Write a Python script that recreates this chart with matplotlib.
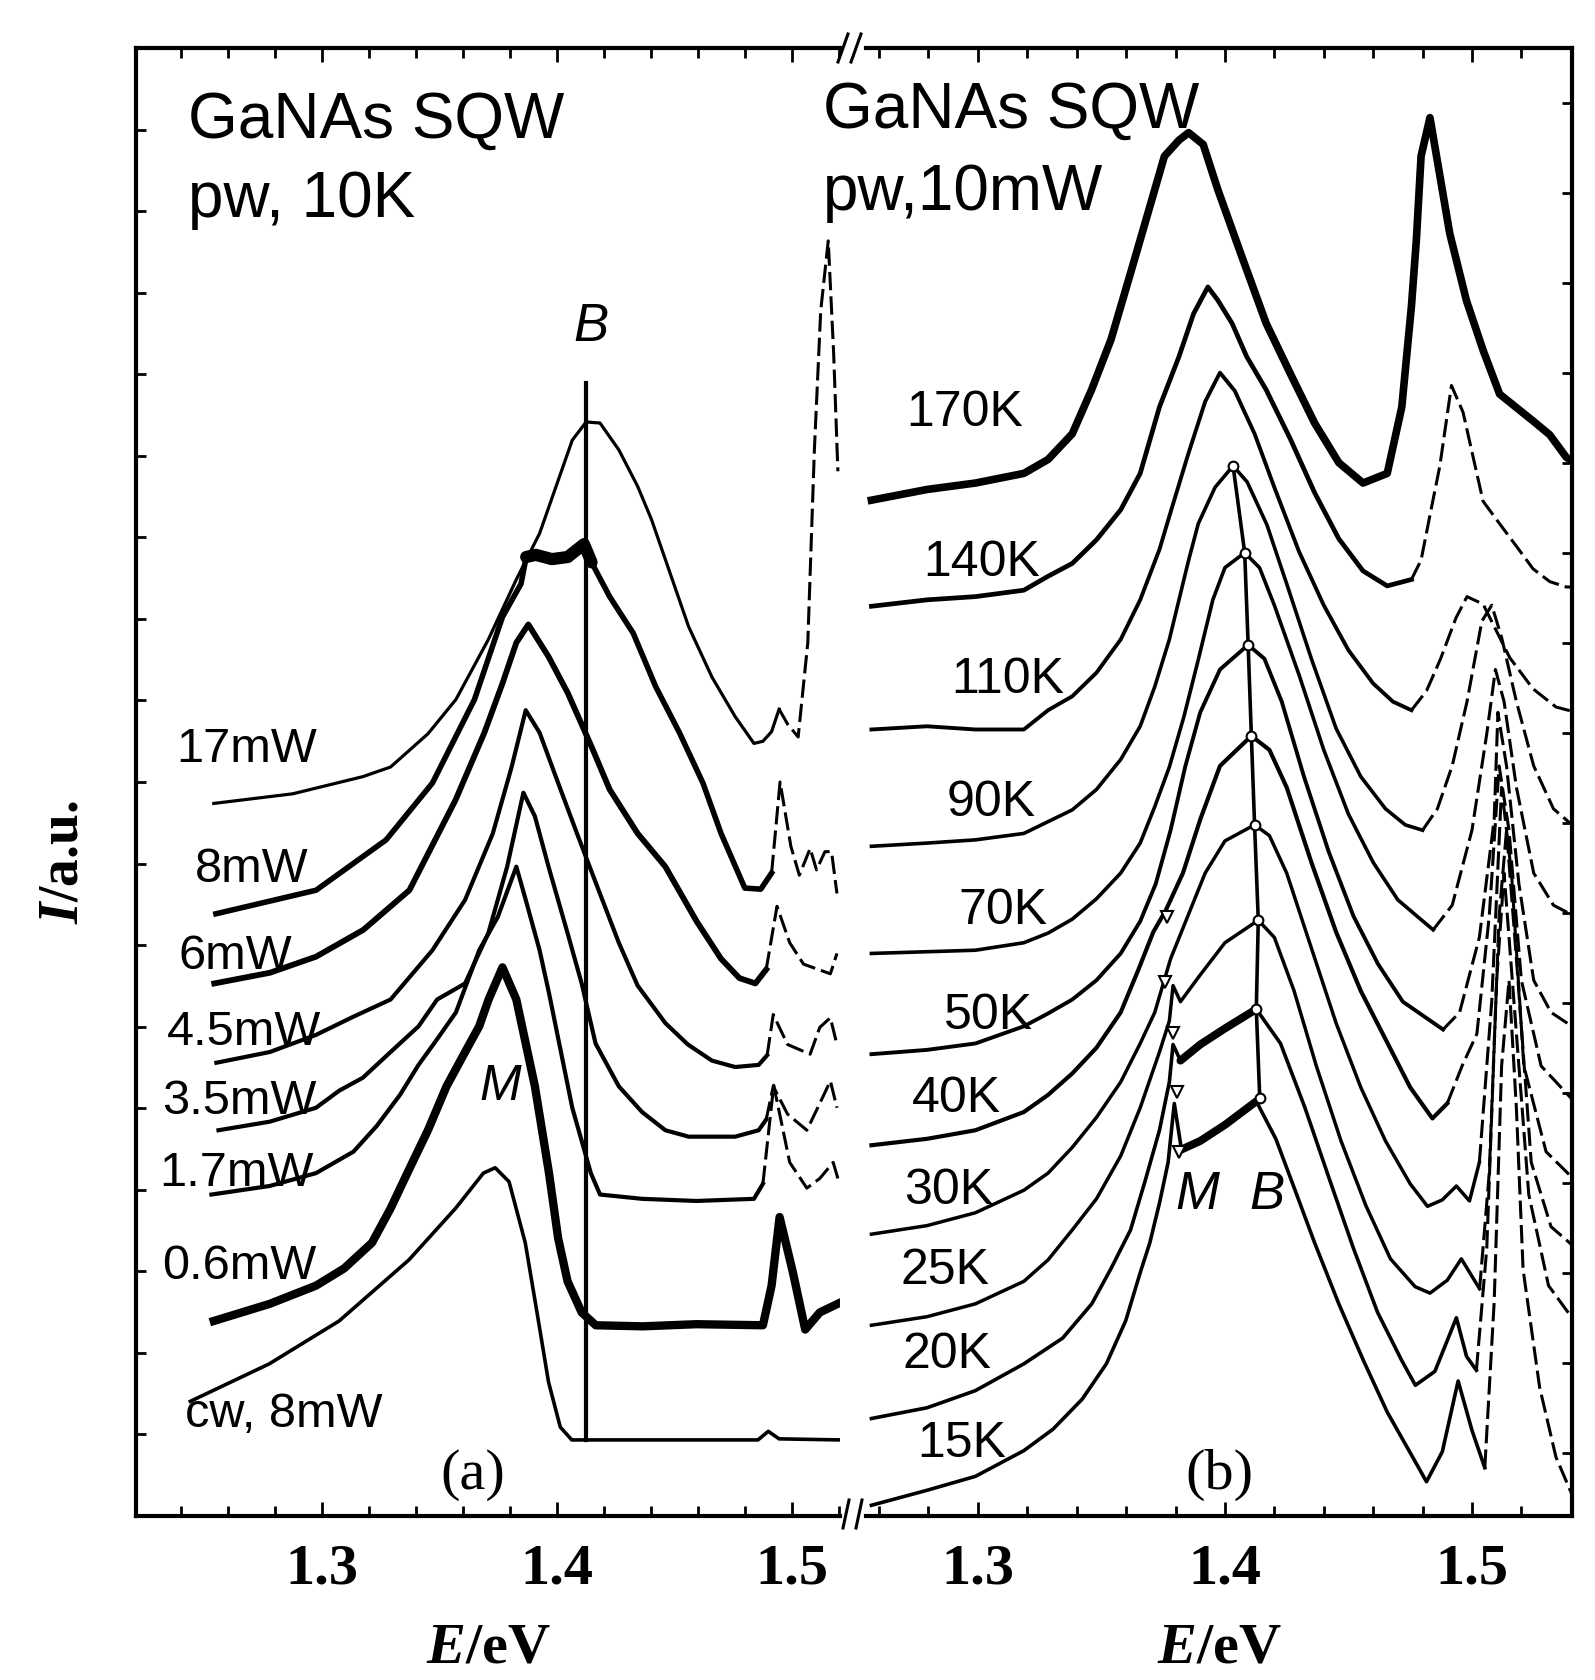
import matplotlib
matplotlib.use("Agg")
import matplotlib.pyplot as plt
from matplotlib.lines import Line2D
import numpy as np

plt.rcParams['font.family'] = ['Liberation Sans', 'DejaVu Sans']
plt.rcParams['mathtext.fontset'] = 'custom'
plt.rcParams['mathtext.it'] = 'Liberation Serif:italic:bold'
plt.rcParams['mathtext.rm'] = 'Liberation Serif:bold'

# ---------------- panel (a): pw excitation, 10 K, power series ----------------
a_labels = ["17mW", "8mW", "6mW", "4.5mW", "3.5mW", "1.7mW", "0.6mW", "cw, 8mW"]

a17_E = [1.2540, 1.2876, 1.3174, 1.3292, 1.3451, 1.3570, 1.3708, 1.3827, 1.3926, 1.4065, 1.4124, 1.4183,
         1.4263, 1.4343, 1.4402, 1.4560, 1.4659, 1.4758, 1.4838, 1.4876, 1.4913, 1.4945, 1.4981, 1.5026,
         1.5067, 1.5095, 1.5122, 1.5154, 1.5177, 1.5195]
a17_I = [665, 674, 690, 699, 730, 762, 818, 874, 917, 1004, 1021, 1020, 995, 961, 930, 830, 783, 746, 721,
         723, 732, 753, 739, 727, 815, 995, 1125, 1190, 1085, 975]

a8_E = [1.2549, 1.2975, 1.3273, 1.3470, 1.3649, 1.3768, 1.3847, 1.3869, 1.3910, 1.3978, 1.4046, 1.4115,
        1.4147, 1.4224, 1.4324, 1.4420, 1.4521, 1.4621, 1.4698, 1.4799, 1.4867, 1.4913, 1.4949, 1.4995,
        1.5031, 1.5077, 1.5104, 1.5140, 1.5168, 1.5191]
a8_I = [562, 584, 631, 684, 762, 839, 870, 895, 897, 893, 895, 907, 890, 858, 824, 774, 731, 684, 637, 586,
        585, 600, 685, 625, 598, 623, 603, 620, 620, 581]

a6_E = [1.2542, 1.2779, 1.2975, 1.3176, 1.3372, 1.3568, 1.3691, 1.3768, 1.3827, 1.3878, 1.3964, 1.4046,
        1.4147, 1.4224, 1.4343, 1.4461, 1.4594, 1.4698, 1.4776, 1.4844, 1.4890, 1.4936, 1.4990, 1.5049,
        1.5163, 1.5191]
a6_I = [497, 507, 522, 547, 584, 668, 731, 777, 815, 832, 802, 768, 718, 678, 637, 606, 555, 520, 502, 497,
        510, 569, 535, 515, 506, 525]

a45_E = [1.2551, 1.2778, 1.2975, 1.3134, 1.3292, 1.3470, 1.3609, 1.3727, 1.3807, 1.3867, 1.3926, 1.4005,
         1.4085, 1.4165, 1.4263, 1.4343, 1.4461, 1.4557, 1.4659, 1.4758, 1.4858, 1.4894, 1.4920, 1.4981,
         1.5077, 1.5118, 1.5163, 1.5191]
a45_I = [423, 433, 449, 466, 482, 528, 575, 637, 699, 752, 731, 684, 637, 591, 535, 495, 460, 440, 425, 419,
         421, 430, 468, 440, 431, 456, 465, 440]

a35_E = [1.2560, 1.2778, 1.2975, 1.3074, 1.3174, 1.3292, 1.3411, 1.3490, 1.3609, 1.3708, 1.3788, 1.3857,
         1.3906, 1.3964, 1.4045, 1.4105, 1.4164, 1.4263, 1.4362, 1.4461, 1.4560, 1.4758, 1.4858, 1.4890,
         1.4920, 1.4981, 1.5063, 1.5118, 1.5163, 1.5191]
a35_I = [360, 368, 381, 397, 409, 433, 457, 482, 497, 544, 606, 675, 653, 606, 544, 497, 441, 401, 377, 360,
         354, 354, 360, 370, 401, 375, 360, 385, 406, 381]

a17b_E = [1.2530, 1.2778, 1.2975, 1.3134, 1.3233, 1.3332, 1.3411, 1.3490, 1.3570, 1.3669, 1.3748, 1.3827,
          1.3867, 1.3926, 1.3966, 1.4065, 1.4144, 1.4183, 1.4362, 1.4593, 1.4838, 1.4876, 1.4907, 1.4922,
          1.4990, 1.5063, 1.5118, 1.5175, 1.5195]
a17b_I = [300, 308, 320, 340, 364, 393, 421, 445, 470, 528, 559, 606, 575, 528, 488, 381, 320, 300, 296, 294,
          296, 310, 372, 402, 330, 306, 315, 330, 315]

a06_E = [1.2540, 1.2778, 1.2975, 1.3094, 1.3213, 1.3292, 1.3372, 1.3451, 1.3530, 1.3609, 1.3669, 1.3709,
         1.3768, 1.3827, 1.3906, 1.3966, 1.4005, 1.4045, 1.4105, 1.4165, 1.4365, 1.4593, 1.4876, 1.4913,
         1.4947, 1.5004, 1.5056, 1.5118, 1.5194]
a06_I = [182, 198, 215, 231, 255, 287, 324, 360, 401, 433, 457, 482, 512, 482, 401, 320, 259, 219, 190, 178,
         177, 179, 178, 215, 279, 227, 174, 190, 198]

acw_E = [1.2440, 1.2776, 1.3073, 1.3370, 1.3568, 1.3687, 1.3737, 1.3796, 1.3865, 1.3915, 1.3964, 1.4014,
         1.4063, 1.4162, 1.4855, 1.4899, 1.4945, 1.5202]
acw_I = [107, 142, 182, 239, 287, 320, 325, 312, 255, 190, 125, 83, 71, 71, 71, 79, 72, 71]

a_B_E = [1.4124, 1.4124]
a_B_I = [71, 1057]

# ---------------- panel (b): pw excitation, 10 mW, temperature series ----------------
b_labels = ["170K", "140K", "110K", "90K", "70K", "50K", "40K", "30K", "25K", "20K", "15K"]

b170_E = [1.2569, 1.2794, 1.2990, 1.3186, 1.3284, 1.3382, 1.3460, 1.3539, 1.3618, 1.3696, 1.3755, 1.3814,
          1.3853, 1.3912, 1.3971, 1.4069, 1.4167, 1.4265, 1.4363, 1.4461, 1.4559, 1.4657, 1.4716, 1.4755,
          1.4775, 1.4794, 1.4830, 1.4910, 1.4978, 1.5045, 1.5112, 1.5247, 1.5315, 1.5382, 1.5405]
b170_I = [948, 958, 964, 973, 986, 1010, 1051, 1098, 1160, 1222, 1269, 1284, 1291, 1280, 1238, 1175, 1113,
          1066, 1020, 983, 964, 973, 1035, 1129, 1191, 1269, 1305, 1197, 1134, 1088, 1047, 1022, 1009, 988, 985]

b140_E = [1.2569, 1.2794, 1.2990, 1.3186, 1.3284, 1.3382, 1.3480, 1.3578, 1.3657, 1.3735, 1.3814, 1.3873,
          1.3931, 1.3970, 1.4029, 1.4088, 1.4167, 1.4265, 1.4363, 1.4461, 1.4559, 1.4657, 1.4755, 1.4794,
          1.4830, 1.4870, 1.4917, 1.4964, 1.5045, 1.5112, 1.5180, 1.5247, 1.5315, 1.5382, 1.5405]
b140_I = [849, 855, 858, 864, 877, 889, 911, 939, 973, 1035, 1082, 1122, 1147, 1135, 1113, 1082, 1051, 1005,
          955, 912, 882, 868, 874, 892, 934, 980, 1055, 1030, 947, 926, 905, 884, 872, 867, 867]

b110_E = [1.2569, 1.2794, 1.2990, 1.3186, 1.3284, 1.3382, 1.3480, 1.3578, 1.3657, 1.3735, 1.3775, 1.3850,
          1.3920, 1.3980, 1.4040, 1.4120, 1.4200, 1.4300, 1.4400, 1.4500, 1.4600, 1.4680, 1.4755, 1.4816,
          1.4873, 1.4935, 1.4980, 1.5045, 1.5153, 1.5247, 1.5340, 1.5405]
b110_I = [734, 737, 734, 734, 752, 765, 787, 818, 855, 902, 933, 990, 1040, 1067, 1050, 1010, 960, 900, 850,
          808, 777, 760, 752, 770, 800, 838, 858, 851, 801, 772, 755, 751]

b90_E = [1.2569, 1.2794, 1.2990, 1.3186, 1.3382, 1.3480, 1.3578, 1.3657, 1.3716, 1.3775, 1.3814, 1.3853,
         1.3892, 1.3960, 1.4033, 1.4090, 1.4170, 1.4250, 1.4350, 1.4450, 1.4550, 1.4650, 1.4730, 1.4800,
         1.4860, 1.4920, 1.4980, 1.5040, 1.5080, 1.5120, 1.5180, 1.5250, 1.5330, 1.5405]
b90_I = [625, 628, 631, 637, 659, 678, 706, 737, 774, 818, 855, 892, 926, 960, 980, 965, 925, 870, 800, 735,
         690, 660, 645, 640, 660, 700, 760, 835, 850, 820, 760, 700, 660, 645]

b70_E = [1.2569, 1.2990, 1.3186, 1.3284, 1.3382, 1.3480, 1.3578, 1.3657, 1.3716, 1.3775, 1.3834, 1.3892,
         1.3951, 1.4000, 1.4080, 1.4140, 1.4200, 1.4300, 1.4400, 1.4500, 1.4600, 1.4700, 1.4843, 1.4920,
         1.5000, 1.5060, 1.5095, 1.5130, 1.5180, 1.5250, 1.5330, 1.5405]
b70_I = [525, 528, 535, 544, 557, 576, 600, 628, 662, 699, 746, 799, 855, 885, 899, 885, 850, 785, 715, 655,
         610, 575, 547, 570, 640, 730, 790, 760, 680, 600, 570, 561]

b50_E = [1.2569, 1.2794, 1.2990, 1.3186, 1.3284, 1.3382, 1.3480, 1.3578, 1.3657, 1.3720, 1.3780, 1.3840,
         1.3900, 1.3980, 1.4094, 1.4160, 1.4230, 1.4320, 1.4420, 1.4520, 1.4620, 1.4720, 1.4883, 1.4950,
         1.5030, 1.5090, 1.5105, 1.5140, 1.5190, 1.5250, 1.5320, 1.5405]
b50_I = [431, 435, 441, 457, 469, 482, 500, 525, 555, 590, 640, 700, 750, 790, 813, 800, 760, 690, 620, 560,
         515, 480, 454, 470, 540, 650, 750, 700, 590, 500, 470, 457]

b40_E = [1.2569, 1.2794, 1.2990, 1.3186, 1.3284, 1.3382, 1.3480, 1.3578, 1.3650, 1.3710, 1.3760, 1.3830,
         1.3900, 1.3980, 1.4107, 1.4180, 1.4250, 1.4350, 1.4450, 1.4550, 1.4650, 1.4750, 1.4840, 1.4900,
         1.4960, 1.5020, 1.5070, 1.5110, 1.5150, 1.5200, 1.5280, 1.5405]
b40_I = [346, 352, 360, 377, 393, 413, 437, 470, 510, 545, 565, 600, 650, 700, 728, 715, 680, 610, 545, 490,
         445, 400, 371, 385, 420, 450, 560, 700, 640, 500, 420, 389]

b30_E = [1.2569, 1.2794, 1.2990, 1.3186, 1.3284, 1.3382, 1.3480, 1.3578, 1.3657, 1.3716, 1.3780, 1.3850,
         1.3920, 1.4000, 1.4120, 1.4180, 1.4250, 1.4350, 1.4450, 1.4550, 1.4650, 1.4750, 1.4820, 1.4880,
         1.4937, 1.4990, 1.5030, 1.5080, 1.5120, 1.5160, 1.5210, 1.5300, 1.5405]
b30_I = [263, 271, 283, 304, 320, 344, 372, 405, 441, 470, 520, 560, 600, 630, 645, 635, 600, 530, 460, 400,
         350, 310, 289, 295, 308, 294, 330, 480, 680, 600, 420, 340, 316]

b25_E = [1.2569, 1.2794, 1.2990, 1.3186, 1.3284, 1.3382, 1.3480, 1.3578, 1.3657, 1.3735, 1.3775, 1.3790,
         1.3820, 1.3900, 1.4000, 1.4135, 1.4200, 1.4280, 1.4370, 1.4470, 1.4570, 1.4670, 1.4770, 1.4830,
         1.4900, 1.4957, 1.5031, 1.5070, 1.5110, 1.5140, 1.5180, 1.5240, 1.5320, 1.5405]
b25_I = [178, 186, 198, 219, 239, 267, 296, 336, 381, 433, 462, 495, 480, 505, 535, 556, 540, 490, 420, 350,
         290, 240, 214, 208, 220, 240, 212, 320, 560, 640, 520, 330, 270, 253]

b20_E = [1.2569, 1.2794, 1.2990, 1.3186, 1.3343, 1.3461, 1.3539, 1.3618, 1.3676, 1.3735, 1.3775, 1.3790,
         1.3820, 1.3900, 1.4000, 1.4127, 1.4225, 1.4324, 1.4422, 1.4520, 1.4618, 1.4716, 1.4771, 1.4850,
         1.4937, 1.4978, 1.5018, 1.5060, 1.5100, 1.5130, 1.5170, 1.5230, 1.5310, 1.5405]
b20_I = [91, 101, 117, 142, 166, 198, 231, 267, 312, 360, 405, 440, 425, 440, 455, 473, 441, 381, 315, 250,
         190, 145, 122, 135, 185, 149, 136, 250, 500, 600, 480, 300, 215, 185]

b15_E = [1.2569, 1.2794, 1.2990, 1.3186, 1.3304, 1.3422, 1.3520, 1.3598, 1.3657, 1.3696, 1.3735, 1.3770,
         1.3795, 1.3824, 1.3900, 1.4000, 1.4127, 1.4206, 1.4284, 1.4363, 1.4461, 1.4559, 1.4657, 1.4755,
         1.4816, 1.4880, 1.4944, 1.5000, 1.5052, 1.5090, 1.5120, 1.5150, 1.5180, 1.5207, 1.5274, 1.5340,
         1.5405]
b15_I = [10, 24, 37, 61, 81, 109, 142, 182, 227, 255, 292, 330, 385, 342, 350, 365, 387, 352, 304, 255, 198,
         146, 97, 57, 32, 60, 126, 80, 45, 200, 420, 500, 380, 230, 120, 55, 20]

# B-peak markers along the line, and M-peak markers
b_B_E = [1.4033, 1.4080, 1.4094, 1.4107, 1.4120, 1.4135, 1.4127, 1.4141]
b_B_I = [980, 899, 813, 728, 645, 556, 473, 390]
b_M_E = [1.3764, 1.3759, 1.3791, 1.3807, 1.3814]
b_M_I = [559, 498, 451, 396, 340]

# ---------------- layout ----------------
W, H = 1595, 1680
fig = plt.figure(figsize=(W / 100, H / 100), dpi=100)
ax_a = fig.add_axes([136 / W, 1 - 1516 / H, 704 / W, 1468 / H])
ax_b = fig.add_axes([866 / W, 1 - 1516 / H, 706 / W, 1468 / H])

YMAX = 1370
DASH = (0, (6, 2))


def curve(ax, E, I, lw, split=None, thick=None):
    """Solid up to `split`, dashed beyond; `thick` = (E0, E1) range drawn heavier (noisy part)."""
    if split is None:
        ax.plot(E, I, color="k", lw=lw, solid_joinstyle="round")
    else:
        k = next(i for i, e in enumerate(E) if e >= split)
        ax.plot(E[:k + 1], I[:k + 1], color="k", lw=lw, solid_joinstyle="round")
        ax.plot(E[k:], I[k:], color="k", lw=2.2, ls=DASH)
    if thick:
        sel = [i for i, e in enumerate(E) if thick[0] <= e <= thick[1]]
        ax.plot([E[i] for i in sel], [I[i] for i in sel], color="k", lw=lw * 2.2,
                solid_capstyle="round")


# panel (a)
a_curves = [(a17_E, a17_I, 2.3, 1.4945, None), (a8_E, a8_I, 4.0, 1.4913, (1.3869, 1.4147)),
            (a6_E, a6_I, 4.2, 1.4890, None), (a45_E, a45_I, 3.0, 1.4894, None),
            (a35_E, a35_I, 3.0, 1.4890, None), (a17b_E, a17b_I, 3.0, 1.4876, None),
            (a06_E, a06_I, 6.0, None, None), (acw_E, acw_I, 2.6, None, None)]
for E, I, lw, sp, th in a_curves:
    curve(ax_a, E, I, lw, sp, th)
ax_a.plot(a_B_E, a_B_I, color="k", lw=3.0)

a_lab_pos = [(1.2679, 715), (1.2702, 603), (1.2633, 522), (1.2669, 451), (1.2649, 387),
             (1.2635, 320), (1.2649, 233), (1.2837, 95)]
for lab, (x, y) in zip(a_labels, a_lab_pos):
    ax_a.text(x, y, lab, fontsize=35, ha="center", va="center")
ax_a.text(1.4145, 1110, "B", fontsize=38, style="italic", ha="center", va="center")
ax_a.text(1.3760, 400, "M", fontsize=36, style="italic", ha="center", va="center")
ax_a.text(0.4787, 0.028, "(a)", transform=ax_a.transAxes, fontsize=42, family="Liberation Serif",
          ha="center", va="center")

# panel (b)
b_curves = [(b170_E, b170_I, 5.5, None, None), (b140_E, b140_I, 3.4, 1.4755, None),
            (b110_E, b110_I, 2.8, 1.4755, None), (b90_E, b90_I, 2.6, 1.4800, None),
            (b70_E, b70_I, 2.6, 1.4843, None), (b50_E, b50_I, 2.8, 1.4883, None),
            (b40_E, b40_I, 3.0, 1.4900, None), (b30_E, b30_I, 2.5, 1.5030, None),
            (b25_E, b25_I, 2.5, 1.5031, None), (b20_E, b20_I, 2.6, 1.5018, (1.3820, 1.4127)),
            (b15_E, b15_I, 2.6, 1.5052, (1.3824, 1.4127))]
for E, I, lw, sp, th in b_curves:
    curve(ax_b, E, I, lw, sp, th)
ax_b.plot(b_B_E, b_B_I, color="k", lw=2.6, marker="o", ms=7, mfc="white", mec="k", mew=1.5)
ax_b.plot(b_M_E, b_M_I, ls="none", marker="v", ms=8, mfc="white", mec="k", mew=1.5)

b_lab_pos = [(1.2945, 1029), (1.3014, 889), (1.3122, 780), (1.3053, 665), (1.3102, 565), (1.3043, 467),
             (1.2912, 389), (1.2882, 303), (1.2867, 229), (1.2876, 150), (1.2935, 67)]
for lab, (x, y) in zip(b_labels, b_lab_pos):
    ax_b.text(x, y, lab, fontsize=36, ha="center", va="center")
ax_b.text(1.3890, 300, "M", fontsize=38, style="italic", ha="center", va="center")
ax_b.text(1.4170, 300, "B", fontsize=38, style="italic", ha="center", va="center")
ax_b.text(0.501, 0.028, "(b)", transform=ax_b.transAxes, fontsize=42, family="Liberation Serif",
          ha="center", va="center")

# header texts (the panel (b) one runs over the break)
fig.text(188 / W, 1 - 138 / H, "GaNAs SQW", fontsize=46, va="baseline")
fig.text(188 / W, 1 - 217 / H, "pw, 10K", fontsize=46, va="baseline")
fig.text(823 / W, 1 - 128 / H, "GaNAs SQW", fontsize=46, va="baseline")
fig.text(823 / W, 1 - 210 / H, "pw,10mW", fontsize=46, va="baseline")

# axes cosmetics (ticks first, limits afterwards so ticks cannot widen the view)
for ax, xr in [(ax_a, (1.2209, 1.5204)), (ax_b, (1.2547, 1.5405))]:
    for s in ax.spines.values():
        s.set_linewidth(3)
    ax.set_xticks([1.3, 1.4, 1.5])
    ax.set_xticklabels(["1.3", "1.4", "1.5"], fontfamily="Liberation Serif", fontweight="bold", fontsize=42)
    minor = [t for t in np.arange(1.24, 1.55, 0.02) if xr[0] < t < xr[1]]
    ax.set_xticks(minor, minor=True)
    ax.tick_params(axis="x", which="both", direction="in", top=True, bottom=True, width=2, pad=20)
    ax.tick_params(axis="x", which="major", length=10)
    ax.tick_params(axis="x", which="minor", length=7)
    ax.text(0.5, -0.09, r"$E$/eV", transform=ax.transAxes, fontsize=42, family="Liberation Serif",
            weight="bold", ha="center", va="center")

ax_a.spines["right"].set_visible(False)
ax_b.spines["left"].set_visible(False)
ax_a.set_yticks(np.linspace(0, YMAX, 19))
ax_a.tick_params(axis="y", direction="in", left=True, right=False, labelleft=False, length=7, width=2)
ax_b.set_yticks(np.arange(59, YMAX, 84))
ax_b.tick_params(axis="y", direction="in", left=False, right=True, labelleft=False, labelright=False,
                 length=7, width=2)
for ax, xr in [(ax_a, (1.2209, 1.5204)), (ax_b, (1.2547, 1.5405))]:
    ax.set_xlim(*xr)
    ax.set_ylim(0, YMAX)

fig.text(64 / W, 1 - 862 / H, r"$I$/a.u.", rotation=90, fontsize=40, family="Liberation Serif",
         weight="bold", ha="center", va="center")

# axis-break marks
for x0 in (838, 851):
    fig.add_artist(Line2D([x0 / W, (x0 + 10) / W], [1 - 62 / H, 1 - 34 / H], color="k", lw=2.2))
for x0 in (843, 856):
    fig.add_artist(Line2D([x0 / W, (x0 + 6) / W], [1 - 1528 / H, 1 - 1500 / H], color="k", lw=2.2))

fig.savefig("out.png", dpi=100)
